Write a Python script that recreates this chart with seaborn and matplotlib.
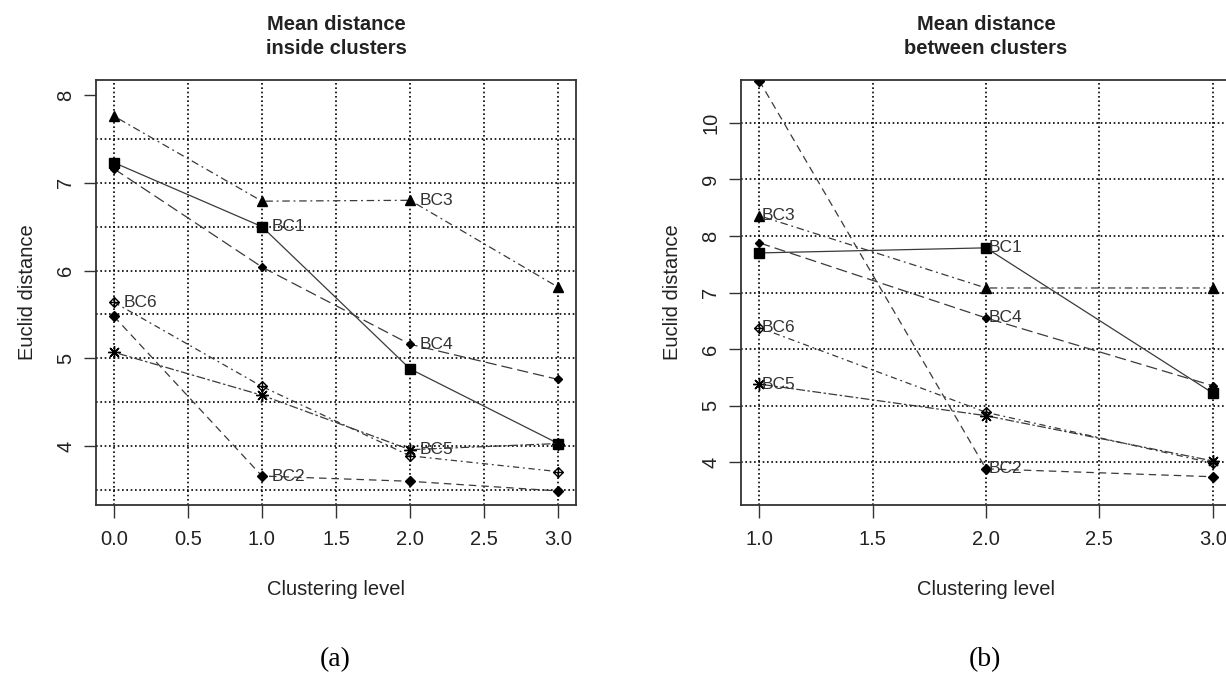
#!/usr/bin/env python3

"""Two panels of mean euclid distance per clustering level, R-style"""

import numpy as np
import seaborn as sns
import matplotlib.pyplot as plt
from matplotlib.path import Path

# DATA
series_names = ["BC1", "BC2", "BC3", "BC4", "BC5", "BC6"]

inside_levels = [0, 1, 2, 3]
inside_bc1 = [7.23, 6.50, 4.88, 4.03]
inside_bc2 = [5.48, 3.66, 3.60, 3.49]
inside_bc3 = [7.76, 6.79, 6.80, 5.81]
inside_bc4 = [7.16, 6.04, 5.16, 4.76]
inside_bc5 = [5.07, 4.58, 3.96, 4.03]
inside_bc6 = [5.64, 4.68, 3.89, 3.71]

between_levels = [1, 2, 3]
between_bc1 = [7.70, 7.79, 5.22]
between_bc2 = [10.75, 3.88, 3.74]
between_bc3 = [8.36, 7.08, 7.08]
between_bc4 = [7.88, 6.55, 5.35]
between_bc5 = [5.38, 4.82, 4.02]
between_bc6 = [6.38, 4.88, 3.98]

# label placement: which level each series name is written at
inside_label_at = {"BC1": 1, "BC2": 1, "BC3": 2, "BC4": 2, "BC5": 2, "BC6": 0}
between_label_at = {"BC1": 2, "BC2": 2, "BC3": 1, "BC4": 2, "BC5": 1, "BC6": 1}

inside_xticks = [0.0, 0.5, 1.0, 1.5, 2.0, 2.5, 3.0]
inside_yticks = [4, 5, 6, 7, 8]
between_xticks = [1.0, 1.5, 2.0, 2.5, 3.0]
between_yticks = [4, 5, 6, 7, 8, 9, 10]

# STYLE
sns.set_theme(style="white")
plt.rcParams["font.family"] = ["Liberation Sans", "DejaVu Sans"]

# diamond with a plus inside (R pch 9)
diamond_plus = Path(
    [(0, 1), (1, 0), (0, -1), (-1, 0), (0, 1), (0, 1), (0, -1), (-1, 0), (1, 0)],
    [Path.MOVETO, Path.LINETO, Path.LINETO, Path.LINETO, Path.CLOSEPOLY,
     Path.MOVETO, Path.LINETO, Path.MOVETO, Path.LINETO])

line_color = "#3a3a3a"
styles = {
    "BC1": dict(marker="s", ls="-", ms=6.5, mfc="black"),
    "BC2": dict(marker="D", ls=(0, (6, 4)), ms=5, mfc="black"),
    "BC3": dict(marker="^", ls=(0, (1.5, 3, 6, 3)), ms=7.5, mfc="black"),
    "BC4": dict(marker="D", ls=(0, (9, 4)), ms=4.5, mfc="black"),
    "BC5": dict(marker=(8, 2, 0), ls=(0, (2, 2, 7, 2)), ms=9, mfc="black"),
    "BC6": dict(marker=diamond_plus, ls=(0, (5, 3, 1.5, 3)), ms=7, mfc="none"),
}

fig = plt.figure(figsize=(12.26, 6.86), dpi=100)
ax_a = fig.add_axes([96 / 1226, 181 / 686, 480 / 1226, 425 / 686])
ax_b = fig.add_axes([741 / 1226, 181 / 686, 490 / 1226, 425 / 686])


def draw_panel(ax, levels, values, label_at, xticks, yticks, xgrid, ygrid,
               xlim, ylim, title, label_dx):
    for v in xgrid:
        ax.axvline(v, color="black", lw=1.2, ls=(0, (1, 1.6)), zorder=0)
    for v in ygrid:
        ax.axhline(v, color="black", lw=1.2, ls=(0, (1, 1.6)), zorder=0)
    for name, vals in zip(series_names, values):
        st = styles[name]
        sns.lineplot(x=levels, y=vals, ax=ax, color=line_color, lw=0.9,
                     linestyle=st["ls"], marker=st["marker"], markersize=st["ms"],
                     markerfacecolor=st["mfc"], markeredgecolor="black",
                     markeredgewidth=1.0, zorder=3)
        lvl = label_at[name]
        ax.annotate(name, (lvl, vals[levels.index(lvl)]), xytext=(label_dx, 0),
                    textcoords="offset points", ha="left", va="center",
                    fontsize=12.5, color="#333333", zorder=4)
    ax.set_xlim(*xlim)
    ax.set_ylim(*ylim)
    ax.set_xticks(xticks)
    ax.set_xticklabels([f"{t:.1f}" for t in xticks])
    ax.set_yticks(yticks)
    ax.set_yticklabels([str(t) for t in yticks], rotation=90, va="center")
    ax.tick_params(axis="both", direction="out", length=9, width=1.0,
                   color="#333333", labelsize=14.5, labelcolor="#222222",
                   bottom=True, left=True, pad=6)
    ax.tick_params(axis="x", pad=9)
    for sp in ax.spines.values():
        sp.set_color("#333333")
        sp.set_linewidth(1.3)
    ax.set_xlabel("Clustering level", fontsize=14.5, color="#222222", labelpad=22)
    ax.set_ylabel("Euclid distance", fontsize=14.5, color="#222222", labelpad=14)
    ax.set_title(title, fontsize=14.5, fontweight="bold", color="#222222",
                 pad=19, linespacing=1.3)


draw_panel(ax_a, inside_levels,
           [inside_bc1, inside_bc2, inside_bc3, inside_bc4, inside_bc5, inside_bc6],
           inside_label_at, inside_xticks, inside_yticks,
           np.arange(0, 3.01, 0.5), np.arange(3.5, 7.51, 0.5),
           (-0.12, 3.12), (3.33, 8.17), "Mean distance\ninside clusters", 7)

draw_panel(ax_b, between_levels,
           [between_bc1, between_bc2, between_bc3, between_bc4, between_bc5, between_bc6],
           between_label_at, between_xticks, between_yticks,
           np.arange(1, 3.01, 0.5), np.arange(4, 10.01, 1),
           (0.92, 3.08), (3.24, 10.76), "Mean distance\nbetween clusters", 2)

fig.text(335 / 1226, 1 - 660 / 686, "(a)", ha="center", va="center",
         fontsize=20, family=["Liberation Serif", "DejaVu Serif"], color="black")
fig.text(985 / 1226, 1 - 660 / 686, "(b)", ha="center", va="center",
         fontsize=20, family=["Liberation Serif", "DejaVu Serif"], color="black")

fig.savefig("out.png", dpi=100)
